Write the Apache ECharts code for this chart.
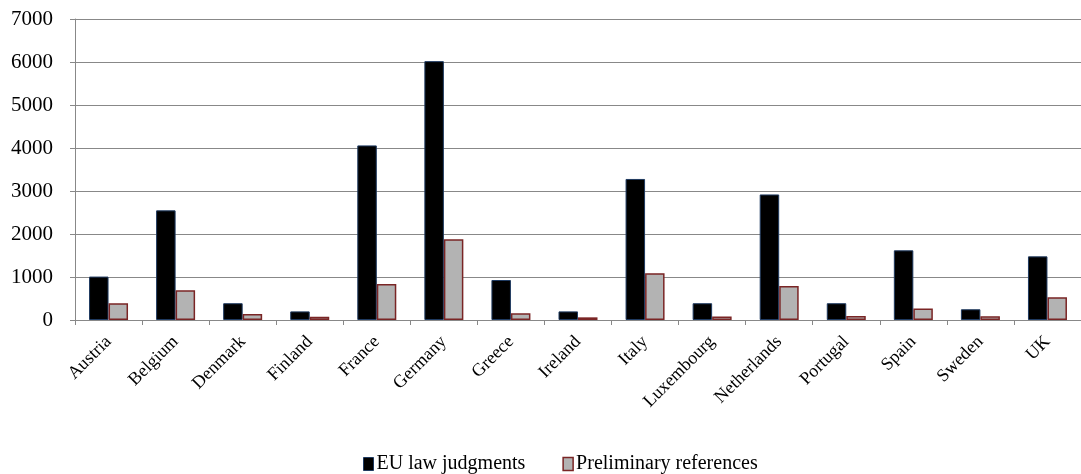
<!DOCTYPE html>
<html><head><meta charset="utf-8">
<script src="https://cdn.jsdelivr.net/npm/echarts@6/dist/echarts.min.js"></script>
<style>html,body{margin:0;padding:0;background:#fff}#c{width:1081px;height:474px}</style>
</head><body><div id="c"></div>
<script>
var categories = ['Austria','Belgium','Denmark','Finland','France','Germany','Greece','Ireland','Italy','Luxembourg','Netherlands','Portugal','Spain','Sweden','UK'];
var judgments = [1010, 2550, 390, 200, 4060, 6020, 930, 200, 3280, 390, 2920, 390, 1620, 250, 1480];
var references = [390, 690, 140, 77, 840, 1880, 155, 62, 1090, 80, 790, 95, 270, 90, 530];
var yTicks = {min: 0, max: 7000, interval: 1000};
var font = '"Liberation Serif", "DejaVu Serif", serif';
var chart = echarts.init(document.getElementById('c'));
chart.setOption({
  animation: false,
  textStyle: {fontFamily: font},
  grid: {left: 75, right: 0, top: 19, bottom: 154, containLabel: false},
  legend: {
    top: 449, left: 358, itemWidth: 10, itemHeight: 13, itemGap: 37,
    textStyle: {fontFamily: font, fontSize: 20, color: '#000', padding: [0, 0, 0, -2]},
    data: [
      {name: 'EU law judgments', icon: 'rect', itemStyle: {color: '#000', borderColor: '#1f3a60', borderWidth: 1}},
      {name: 'Preliminary references', icon: 'rect', itemStyle: {color: '#b3b3b3', borderColor: '#7a2525', borderWidth: 1.5}}
    ]
  },
  xAxis: {
    type: 'category', data: categories,
    axisLine: {lineStyle: {color: '#888', width: 1}},
    axisTick: {show: true, length: 5, lineStyle: {color: '#888'}, alignWithLabel: false},
    axisLabel: {rotate: 45, fontFamily: font, fontSize: 18, color: '#000', margin: 19, interval: 0}
  },
  yAxis: {
    type: 'value', min: yTicks.min, max: yTicks.max, interval: yTicks.interval,
    axisLine: {show: true, lineStyle: {color: '#888'}},
    axisTick: {show: true, length: 5, lineStyle: {color: '#888'}},
    splitLine: {lineStyle: {color: '#888', width: 1}},
    axisLabel: {fontFamily: font, fontSize: 21, color: '#000', margin: 22, formatter: function (v) { return String(v); }}
  },
  series: [
    {name: 'EU law judgments', type: 'bar', data: judgments, barWidth: 19.5, barGap: '0%',
     itemStyle: {color: '#000', borderColor: '#1f3a60', borderWidth: 1}},
    {name: 'Preliminary references', type: 'bar', data: references, barWidth: 19.5, barGap: '0%',
     itemStyle: {color: '#b3b3b3', borderColor: '#7a2525', borderWidth: 1.5}}
  ]
});
</script></body></html>
